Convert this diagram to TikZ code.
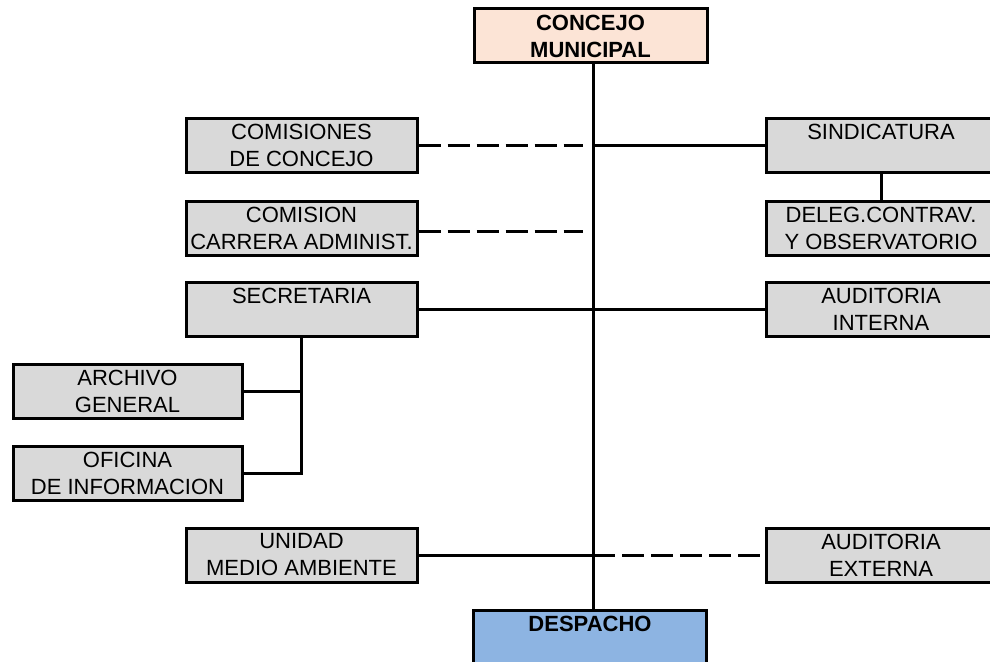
\documentclass[tikz,border=0pt]{standalone}
\usepackage{fontspec}
\setmainfont{Liberation Sans}
\definecolor{boxgray}{HTML}{D9D9D9}
\definecolor{council}{HTML}{FCE4D6}
\definecolor{office}{HTML}{8DB4E2}

\begin{document}
\begin{tikzpicture}[x=1pt,y=-1pt,
  unit/.style={draw=black, line width=3pt, fill=boxgray, align=center,
    inner sep=0pt, minimum width=231pt, minimum height=54pt,
    font=\fontsize{22}{27}\selectfont},
  head/.style={unit, fill=council, minimum width=233pt, font=\fontsize{22}{27}\selectfont\bfseries},
  seat/.style={unit, fill=office, minimum width=233pt, font=\fontsize{22}{27}\selectfont\bfseries},
  link/.style={line width=3pt},
  loose/.style={line width=3pt, dash pattern=on 22pt off 7pt},
]
\useasboundingbox (0,0) rectangle (990,661);
\clip (0,0) rectangle (990,661);

% main spine position
\coordinate (spine) at (593,0);

% top and bottom of the hierarchy
\node[head] (concejo) at (590.5,36) {CONCEJO\\MUNICIPAL};
\node[seat] (despacho) at (590,637) {DESPACHO\\\mbox{}};

% left column
\node[unit] (comisiones) at (301.5,145) {COMISIONES\\DE CONCEJO};
\node[unit] (carrera) at (301.5,228) {COMISION\\CARRERA ADMINIST.};
\node[unit] (secretaria) at (301.5,309) {SECRETARIA\\\mbox{}};
\node[unit, minimum width=229pt] (archivo) at (127.5,391) {ARCHIVO\\GENERAL};
\node[unit, minimum width=229pt] (oficina) at (127.5,473) {OFICINA\\DE INFORMACION};
\node[unit] (unidad) at (301.5,555) {UNIDAD\\MEDIO AMBIENTE};

% right column
\node[unit, minimum width=230pt] (sindicatura) at (881,145) {SINDICATURA\\\mbox{}};
\node[unit, minimum width=230pt] (deleg) at (881,228) {DELEG.CONTRAV.\\Y OBSERVATORIO};
\node[unit, minimum width=230pt] (audint) at (881,309) {AUDITORIA\\INTERNA};
\node[unit, minimum width=230pt] (audext) at (881,555) {AUDITORIA\\EXTERNA};

% spine
\draw[link] (concejo.south -| spine) -- (despacho.north -| spine);

% council committees (advisory, dashed)
\coordinate (c1) at (583,145);
\coordinate (c2) at (583,231);
\draw[loose] (comisiones.east) -- (c1);
\draw[loose] ([yshift=-3pt]carrera.east) -- (c2);

% solid links
\draw[link] (sindicatura.west) -- (sindicatura.west -| spine);
\draw[link] (sindicatura.south) -- (deleg.north);
\draw[link] (secretaria.east) -- (audint.west);
\draw[link] (secretaria.south) -- (secretaria.south |- oficina.east) -- (oficina.east);
\draw[link] (archivo.east) -- (archivo.east -| secretaria.south);
\draw[link] (unidad.east) -- (unidad.east -| spine);
\draw[loose] (unidad.east -| spine) -- (audext.west);
\end{tikzpicture}
\end{document}
